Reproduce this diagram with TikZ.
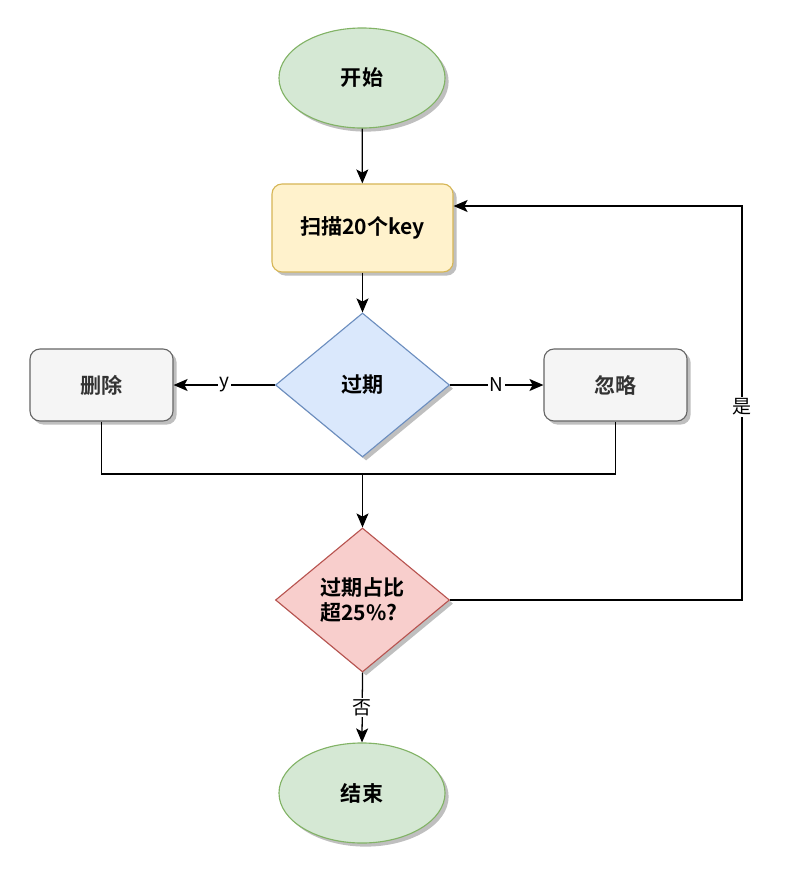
\documentclass[tikz,border=0pt]{standalone}
\usepackage{fontspec}
\setmainfont{Noto Sans CJK SC}
\newfontfamily\cjkbold{Noto Sans CJK SC Bold}
\usepackage{tikz}
\usetikzlibrary{positioning,arrows.meta,shapes.geometric,shadows}
\definecolor{greenfill}{HTML}{D5E8D4}
\definecolor{greenline}{HTML}{82B366}
\definecolor{yellowfill}{HTML}{FFF2CC}
\definecolor{yellowline}{HTML}{D6B656}
\definecolor{bluefill}{HTML}{DAE8FC}
\definecolor{blueline}{HTML}{6C8EBF}
\definecolor{redfill}{HTML}{F8CECC}
\definecolor{redline}{HTML}{B85450}
\definecolor{greyfill}{HTML}{F5F5F5}
\definecolor{greyline}{HTML}{666666}
\definecolor{greytext}{HTML}{333333}
\tikzset{
  shade/.style={drop shadow={shadow xshift=0.09cm, shadow yshift=-0.09cm, fill=black!25, opacity=1}},
  terminal/.style={ellipse, draw=greenline, fill=greenfill, line width=0.8pt, shade,
    minimum width=4.15cm, minimum height=2.5cm, inner sep=0pt, font=\cjkbold\fontsize{15}{17}\selectfont},
  process/.style={rectangle, rounded corners=0.25cm, line width=0.8pt, shade,
    inner sep=0pt, font=\cjkbold\fontsize{15}{17}\selectfont},
  decision/.style={diamond, aspect=1.2, line width=0.8pt, shade, inner sep=0pt,
    minimum width=4.35cm, minimum height=3.6cm, font=\cjkbold\fontsize{15}{18}\selectfont},
  flow/.style={line width=0.9pt, -{Stealth[length=0.35cm,width=0.3cm,inset=0.08cm]}},
  link/.style={line width=0.9pt},
  lbl/.style={fill=white, inner sep=1pt, font=\fontsize{13.5}{15}\selectfont}
}
\begin{document}
\begin{tikzpicture}[x=0.025cm,y=-0.025cm]
\useasboundingbox (0,0) rectangle (804,875);

% nodes
\node[terminal] (start) at (362,78) {开始};
\node[process, draw=yellowline, fill=yellowfill, minimum width=4.525cm, minimum height=2.2cm] (scan) at (362.5,228) {扫描20个key};
\node[decision, draw=blueline, fill=bluefill] (exp) at (362.5,385) {过期};
\node[process, draw=greyline, fill=greyfill, text=greytext, minimum width=3.575cm, minimum height=1.8cm] (del) at (101.5,385) {删除};
\node[process, draw=greyline, fill=greyfill, text=greytext, minimum width=3.575cm, minimum height=1.8cm] (ign) at (615.5,385) {忽略};
\node[decision, draw=redline, fill=redfill, align=left] (ratio) at (362.5,600) {过期占比\\超25\%?};
\node[terminal] (end) at (362,793) {结束};
\coordinate (join) at (362.5,474);
\coordinate (back) at (742,206);

% connectors
\draw[flow] (start) -- (scan);
\draw[flow] (scan) -- (exp);
\draw[flow] (exp.west) -- node[lbl] {y} (del.east);
\draw[flow] (exp.east) -- node[lbl] {N} (ign.west);
\draw[link] (del.south) |- (join);
\draw[link] (ign.south) |- (join);
\draw[flow] (join) -- (ratio.north);
\draw[flow] (ratio.east) -| node[lbl, pos=0.745] {是} (back) -- (scan.east |- back);
\draw[flow] (ratio.south) -- node[lbl] {否} (end.north);
\end{tikzpicture}
\end{document}
